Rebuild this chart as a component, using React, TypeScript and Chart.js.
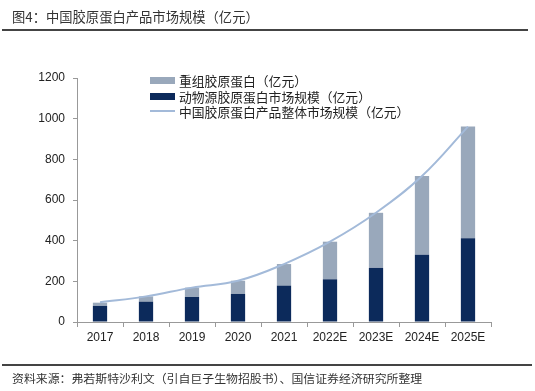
import React, { useEffect, useRef } from "react";
import { Chart, registerables } from "chart.js";

Chart.register(...registerables);

const categories = ["2017", "2018", "2019", "2020", "2021", "2022E", "2023E", "2024E", "2025E"];
const animalSource = [79, 100, 123, 138, 179, 210, 266, 331, 412];
const recombinant = [16, 26, 46, 65, 106, 185, 271, 387, 549];
const totalMarket = [97, 126, 169, 203, 285, 395, 537, 718, 961];

const titleText = "图4：中国胶原蛋白产品市场规模（亿元）";
const sourceText = "资料来源：弗若斯特沙利文（引自巨子生物招股书）、国信证券经济研究所整理";
const legendLabels = ["重组胶原蛋白（亿元）", "动物源胶原蛋白市场规模（亿元）", "中国胶原蛋白产品整体市场规模（亿元）"];

const DARK = "#0C2A5B";
const LIGHT = "#99A8BB";
const LINE = "#A3BAD9";
const CJK = '"Noto Sans CJK SC", "Noto Sans", sans-serif';

export default function App() {
  const ref = useRef<HTMLCanvasElement | null>(null);

  useEffect(() => {
    if (!ref.current) return;
    const chart = new Chart(ref.current, {
      type: "bar",
      data: {
        labels: categories,
        datasets: [
          {
            type: "line" as any,
            label: legendLabels[2],
            data: totalMarket,
            borderColor: LINE,
            borderWidth: 2,
            pointRadius: 0,
            tension: 0.4,
            fill: false,
            order: 0,
            stack: "line",
          } as any,
          {
            label: legendLabels[1],
            data: animalSource,
            backgroundColor: DARK,
            stack: "s",
            order: 1,
            barPercentage: 0.31,
            categoryPercentage: 1,
          },
          {
            label: legendLabels[0],
            data: recombinant,
            backgroundColor: LIGHT,
            stack: "s",
            order: 1,
            barPercentage: 0.31,
            categoryPercentage: 1,
          },
        ],
      },
      options: {
        responsive: false,
        animation: false,
        layout: { padding: { left: 0, right: 44, top: 78, bottom: 0 } },
        plugins: { legend: { display: false }, tooltip: { enabled: false } },
        scales: {
          x: {
            stacked: true,
            grid: { drawOnChartArea: false, drawTicks: true, tickLength: 5, color: "#999", offset: true },
            border: { display: true, color: "#999", width: 1 },
            ticks: { color: "#222", font: { family: "Liberation Sans, Arial, sans-serif", size: 12 }, padding: 3 },
            afterFit: (s: any) => { s.height = 69; },
          },
          y: {
            stacked: true,
            min: 0,
            max: 1200,
            grid: { drawOnChartArea: false, drawTicks: true, tickLength: 4, color: "#999" },
            border: { display: true, color: "#999", width: 1 },
            ticks: {
              stepSize: 200,
              color: "#222",
              font: { family: "Liberation Sans, Arial, sans-serif", size: 12 },
              padding: 8,
              callback: (v: any) => String(v),
            },
            afterFit: (s: any) => { s.width = 77; },
          },
        },
      },
    });
    return () => chart.destroy();
  }, []);

  const row = (i: number, top: number, swatch: React.ReactNode) => (
    <div key={i} style={{ position: "absolute", left: 150, top: top - 9, height: 18, display: "flex", alignItems: "center" }}>
      <div style={{ width: 25, display: "flex", alignItems: "center" }}>{swatch}</div>
      <span style={{ marginLeft: 4, fontFamily: CJK, fontSize: 12.8, color: "#222", whiteSpace: "nowrap" }}>{legendLabels[i]}</span>
    </div>
  );

  return (
    <div style={{ position: "fixed", left: 0, top: 0, width: 535, height: 391, background: "#fff", overflow: "hidden" }}>
      <canvas ref={ref} width={535} height={391} style={{ position: "absolute", left: 0, top: 0 }} />
      <div style={{ position: "absolute", left: 12, top: 8, fontFamily: CJK, fontSize: 13.3, color: "#333", whiteSpace: "nowrap", lineHeight: "18px" }}>{titleText}</div>
      <div style={{ position: "absolute", left: 2, top: 29, width: 526, height: 2, background: "#444" }} />
      {row(0, 80, <div style={{ width: 25, height: 7, background: LIGHT }} />)}
      {row(1, 96, <div style={{ width: 25, height: 7, background: DARK }} />)}
      {row(2, 111, <div style={{ width: 25, height: 2, background: LINE }} />)}
      <div style={{ position: "absolute", left: 2, top: 364, width: 530, height: 1.5, background: "#444" }} />
      <div style={{ position: "absolute", left: 12, top: 370, fontFamily: CJK, fontSize: 11.9, color: "#333", whiteSpace: "nowrap", lineHeight: "16px" }}>{sourceText}</div>
    </div>
  );
}
